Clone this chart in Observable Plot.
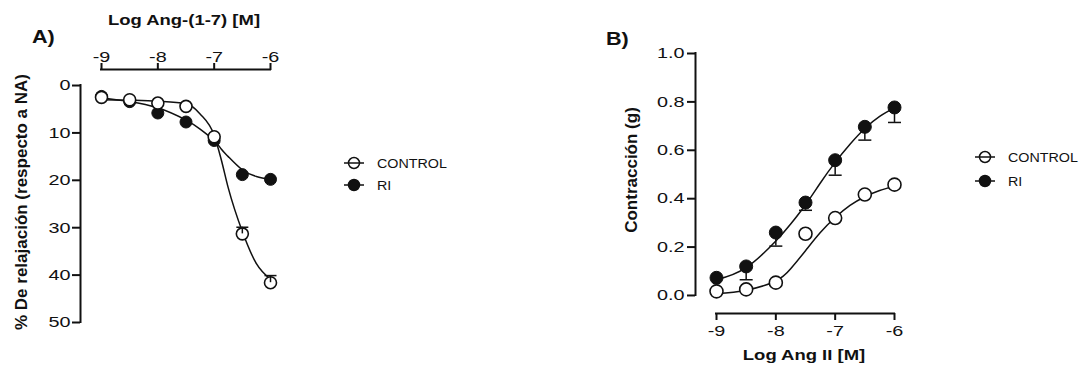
<!DOCTYPE html>
<html>
<head>
<meta charset="utf-8">
<script src="https://cdn.jsdelivr.net/npm/d3@7"></script>
<script src="https://cdn.jsdelivr.net/npm/@observablehq/plot@0.6"></script>
<style>
  html, body { margin: 0; padding: 0; background: #fff; }
  #wrap { position: relative; width: 1084px; height: 366px; overflow: hidden; }
  #wrap svg { position: absolute; top: 0; }
</style>
</head>
<body>
<div id="wrap"></div>
<script>
// ---------- data ----------
// Panel A : Log Ang-(1-7) [M] vs % relaxation
const doseA = [-9, -8.5, -8, -7.5, -7, -6.5, -6];
const controlA = [2.5, 3.0, 3.7, 4.4, 10.8, 31.3, 41.6];
const controlAErr = [null, null, null, null, null, 1.4, 1.5];
const riA = [2.3, 3.4, 5.8, 7.7, 11.6, 18.8, 19.8];
// fitted curves
const fitXA = [-9, -8.5, -8, -7.5, -7.25, -7, -6.875, -6.75, -6.5, -6.25, -6];
const fitControlA = [3.0, 3.1, 3.3, 3.8, 6.0, 10.5, 15.6, 21.6, 30.8, 37.6, 40.9];
const fitRIA = [2.6, 3.4, 4.7, 7.3, 9.2, 11.6, 13.4, 15.0, 17.8, 19.2, 19.9];
const xTicksA = [-9, -8, -7, -6];
const yTicksA = [0, 10, 20, 30, 40, 50];

// Panel B : Log Ang II [M] vs contraction (g)
const doseB = [-9, -8.5, -8, -7.5, -7, -6.5, -6];
const controlB = [0.017, 0.025, 0.053, 0.255, 0.32, 0.417, 0.458];
const riB = [0.073, 0.12, 0.26, 0.384, 0.559, 0.697, 0.777];
const riBErr = [null, 0.055, 0.056, 0.032, 0.062, 0.055, 0.062];
const fitXB = [-9, -8.5, -8, -7.75, -7.5, -7.25, -7, -6.75, -6.5, -6.25, -6];
const fitControlB = [0.008, 0.022, 0.06, 0.11, 0.185, 0.26, 0.322, 0.372, 0.408, 0.434, 0.452];
const fitRIB = [0.065, 0.115, 0.225, 0.295, 0.375, 0.465, 0.55, 0.625, 0.69, 0.74, 0.775];
const xTicksB = [-9, -8, -7, -6];
const yTicksB = [0, 0.2, 0.4, 0.6, 0.8, 1.0];

const seriesNames = ["CONTROL", "RI"];

// ---------- helpers ----------
const hline = {draw(ctx, size) { const r = Math.sqrt(size / Math.PI); ctx.moveTo(-r, 0); ctx.lineTo(r, 0); }};
const FONT = "'Liberation Sans', Arial, Helvetica, sans-serif";
const STRETCH = 1.32;

// widen glyphs horizontally without touching positions (after the svg is in the DOM)
function stretchTexts(svg, s) {
  svg.querySelectorAll('g[aria-label$="tick label"] text').forEach(t => {
    const spans = t.querySelectorAll("tspan");
    const targets = spans.length ? Array.from(spans) : [t];
    targets.forEach(el => {
      const L = el.getComputedTextLength();
      if (L > 0) {
        el.setAttribute("textLength", (L * s).toFixed(2));
        el.setAttribute("lengthAdjust", "spacingAndGlyphs");
      }
    });
  });
}

const rows = (xs, ys, errs) => xs.map((x, i) => ({x, y: ys[i], err: errs ? errs[i] : null}));

// ---------- Panel A ----------
const ctrlA = rows(doseA, controlA, controlAErr);
const riRowsA = rows(doseA, riA);
const fitCA = rows(fitXA, fitControlA);
const fitRA = rows(fitXA, fitRIA);
const errA = ctrlA.filter(d => d.err != null);
const yDomA = [-3.38, 50];
const xDomA = [-9.373, -6];

const plotA = Plot.plot({
  width: 540, height: 366,
  marginLeft: 80, marginRight: 270, marginTop: 69, marginBottom: 44,
  style: {fontFamily: FONT, fontSize: "15px", color: "#111", background: "transparent", overflow: "visible"},
  x: {domain: xDomA},
  y: {domain: yDomA, reverse: true},
  marks: [
    Plot.ruleY([yDomA[0]], {x1: xTicksA[0], x2: xTicksA[xTicksA.length - 1], stroke: "#111", strokeWidth: 2, strokeLinecap: "square"}),
    Plot.ruleX([xDomA[0]], {y1: yTicksA[0], y2: yTicksA[yTicksA.length - 1], stroke: "#111", strokeWidth: 2, strokeLinecap: "square"}),
    Plot.axisX({anchor: "top", ticks: xTicksA, tickSize: 7, tickPadding: 1, tickFormat: d => `${d}`, label: null, strokeWidth: 2}),
    Plot.axisY({anchor: "left", ticks: yTicksA, tickSize: 8, tickPadding: 2, tickFormat: d => `${d}`, label: null, strokeWidth: 2}),
    Plot.line(fitCA, {x: "x", y: "y", curve: "monotone-x", stroke: "#111", strokeWidth: 1.5}),
    Plot.line(fitRA, {x: "x", y: "y", curve: "natural", stroke: "#111", strokeWidth: 1.5}),
    Plot.dot(riRowsA, {x: "x", y: "y", r: 6, fill: "#111", stroke: "#111", strokeWidth: 1}),
    Plot.dot(ctrlA, {x: "x", y: "y", r: 6, fill: "white", stroke: "#111", strokeWidth: 1.6}),
    Plot.ruleX(errA, {x: "x", y1: "y", y2: d => d.y - d.err, stroke: "#111", strokeWidth: 1.5}),
    Plot.dot(errA, {x: "x", y: d => d.y - d.err, symbol: hline, r: 6, stroke: "#111", strokeWidth: 1.5})
  ]
});
plotA.style.left = "0px";
document.getElementById("wrap").appendChild(plotA);
stretchTexts(plotA, STRETCH);

// ---------- Panel B ----------
const ctrlB = rows(doseB, controlB);
const riRowsB = rows(doseB, riB, riBErr);
const fitCB = rows(fitXB, fitControlB);
const fitRB = rows(fitXB, fitRIB);
const errB = riRowsB.filter(d => d.err != null);
const yDomB = [-0.0745, 1.0];
const xDomB = [-9.354, -6];

const plotB = Plot.plot({
  width: 544, height: 366,
  marginLeft: 155, marginRight: 190, marginTop: 53, marginBottom: 53,
  style: {fontFamily: FONT, fontSize: "15px", color: "#111", background: "transparent", overflow: "visible"},
  x: {domain: xDomB},
  y: {domain: yDomB},
  marks: [
    Plot.ruleY([yDomB[0]], {x1: xTicksB[0], x2: xTicksB[xTicksB.length - 1], stroke: "#111", strokeWidth: 2, strokeLinecap: "square"}),
    Plot.ruleX([xDomB[0]], {y1: yTicksB[0], y2: yTicksB[yTicksB.length - 1], stroke: "#111", strokeWidth: 2, strokeLinecap: "square"}),
    Plot.axisX({anchor: "bottom", ticks: xTicksB, tickSize: 7, tickPadding: 5, tickFormat: d => `${d}`, label: null, strokeWidth: 2}),
    Plot.axisY({anchor: "left", ticks: yTicksB, tickSize: 8, tickPadding: 3, tickFormat: d3.format(".1f"), label: null, strokeWidth: 2}),
    Plot.line(fitCB, {x: "x", y: "y", curve: "natural", stroke: "#111", strokeWidth: 1.5}),
    Plot.line(fitRB, {x: "x", y: "y", curve: "natural", stroke: "#111", strokeWidth: 1.5}),
    Plot.dot(ctrlB, {x: "x", y: "y", r: 6.5, fill: "white", stroke: "#111", strokeWidth: 1.6}),
    Plot.ruleX(errB, {x: "x", y1: "y", y2: d => d.y - d.err, stroke: "#111", strokeWidth: 1.5}),
    Plot.dot(errB, {x: "x", y: d => d.y - d.err, symbol: hline, r: 6.5, stroke: "#111", strokeWidth: 1.5}),
    Plot.dot(riRowsB, {x: "x", y: "y", r: 6.5, fill: "#111", stroke: "#111", strokeWidth: 1})
  ]
});
plotB.style.left = "540px";
document.getElementById("wrap").appendChild(plotB);
stretchTexts(plotB, STRETCH);

// ---------- titles & legends overlay ----------
const ov = d3.select("#wrap").append("svg")
  .attr("width", 1084).attr("height", 366)
  .style("left", "0px")
  .style("font-family", FONT).style("fill", "#111");

function label(txt, x, y, opts = {}) {
  return ov.append("text").text(txt)
    .attr("text-anchor", opts.anchor || "start")
    .attr("font-size", opts.size || 14)
    .attr("font-weight", opts.weight || "normal")
    .attr("transform", `translate(${x},${y})` + (opts.rotate ? ` rotate(${opts.rotate})` : "") + (opts.sx ? ` scale(${opts.sx},1)` : ""));
}

label("A)", 32, 43, {size: 18, weight: "bold", sx: 1.2});
label("B)", 606, 45, {size: 18, weight: "bold", sx: 1.2});
label("Log Ang-(1-7) [M]", 184, 25, {size: 14, weight: "bold", anchor: "middle", sx: STRETCH});
label("Log Ang II [M]", 804, 360, {size: 14, weight: "bold", anchor: "middle", sx: STRETCH});
label("% De relajación (respecto a NA)", 27, 202, {size: 17, weight: "bold", anchor: "middle", rotate: -90});
label("Contracción (g)", 637, 170, {size: 17, weight: "bold", anchor: "middle", rotate: -90});

function legend(cx, tx, ys) {
  seriesNames.forEach((name, i) => {
    const y = ys[i];
    ov.append("line").attr("x1", cx - 10).attr("x2", cx + 10).attr("y1", y).attr("y2", y)
      .attr("stroke", "#111").attr("stroke-width", 1.5);
    ov.append("circle").attr("cx", cx).attr("cy", y).attr("r", 5.5)
      .attr("fill", i === 0 ? "none" : "#111").attr("stroke", "#111").attr("stroke-width", 1.5);
    label(name, tx, y + 4.7, {size: 13, sx: 1.1});
  });
}
legend(354, 377, [163, 185]);
legend(985, 1008, [157, 181]);
</script>
</body>
</html>
